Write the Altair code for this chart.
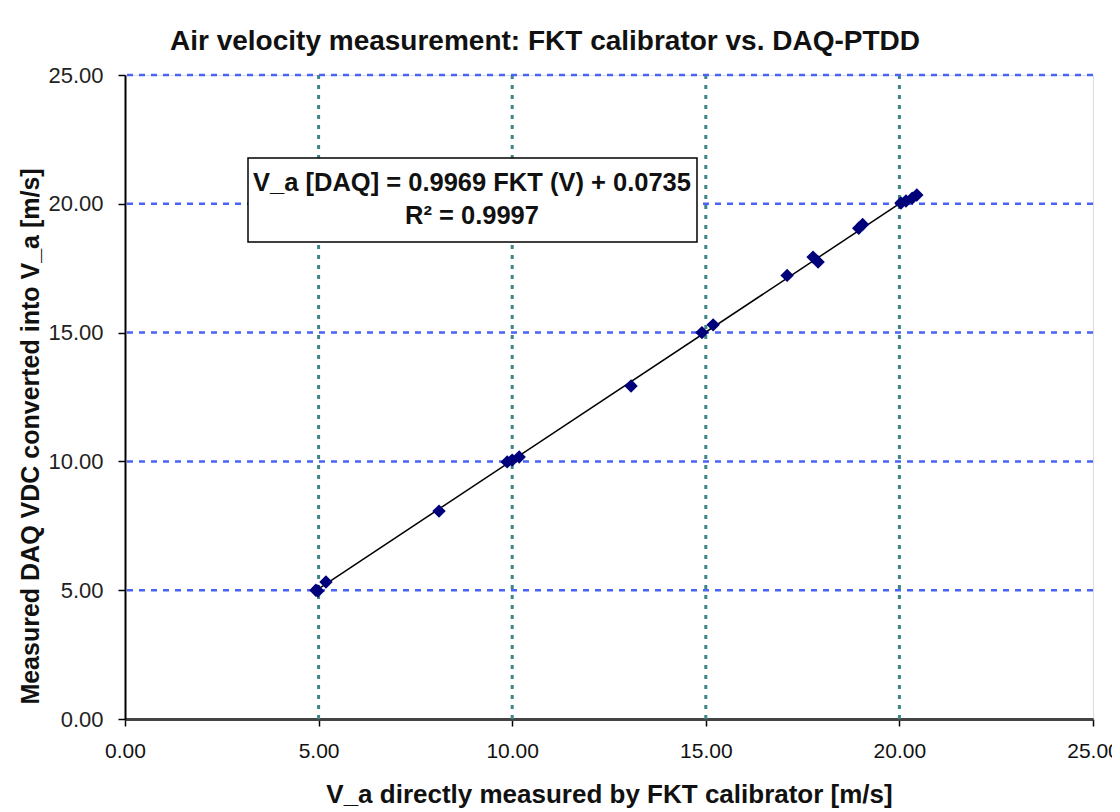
import altair as alt
import pandas as pd

# ---- data ----
fkt_x = [4.93, 4.98, 5.19, 8.11, 9.87, 10.00, 10.18, 13.07, 14.90, 15.19,
         17.10, 17.77, 17.90, 18.95, 19.05, 20.04, 20.17, 20.33, 20.45]
daq_y = [5.00, 4.97, 5.32, 8.07, 9.98, 10.05, 10.17, 12.93, 15.00, 15.30,
         17.22, 17.93, 17.74, 19.05, 19.20, 20.03, 20.11, 20.22, 20.34]

x_grid_values = [5, 10, 15, 20]
y_grid_values = [5, 10, 15, 20, 25]
axis_ticks = [0, 5, 10, 15, 20, 25]

title_text = "Air velocity measurement: FKT calibrator vs. DAQ-PTDD"
x_title = "V_a directly measured by FKT calibrator [m/s]"
y_title = "Measured DAQ VDC converted into V_a [m/s]"
eq_lines = ["V_a [DAQ] = 0.9969 FKT (V) + 0.0735", "R² = 0.9997"]

df = pd.DataFrame({"x": fkt_x, "y": daq_y})
xg = pd.DataFrame({"v": x_grid_values})
yg = pd.DataFrame({"v": y_grid_values})
eq = pd.DataFrame({"t": ["\n".join(eq_lines)]})
box = pd.DataFrame({"a": [0]})

W, H = 968, 644
SANS = "Liberation Sans"

xscale = alt.Scale(domain=[0, 25], nice=False, zero=True)
yscale = alt.Scale(domain=[0, 25], nice=False, zero=True)

xaxis = alt.Axis(values=axis_ticks, format=".2f", grid=False, title=x_title,
                 labelFont=SANS, labelFontSize=21, labelColor="#111",
                 labelPadding=14, labelFlush=False, labelOverlap=False,
                 tickSize=7, tickColor="#000", tickWidth=1.5,
                 domainColor="#444", domainWidth=3,
                 titleFont=SANS, titleFontSize=26, titleFontWeight="bold",
                 titleColor="#111", titleBaseline="middle", titleY=75)
yaxis = alt.Axis(values=axis_ticks, format=".2f", grid=False, title=y_title,
                 labelFont=SANS, labelFontSize=22, labelColor="#222",
                 labelPadding=15, labelFlush=False, labelOverlap=False,
                 tickSize=7, tickColor="#000", tickWidth=1.5,
                 domainColor="#000", domainWidth=2,
                 titleFont=SANS, titleFontSize=25, titleFontWeight="bold",
                 titleColor="#111", titleAngle=270, titleBaseline="middle",
                 titleAlign="center", titleX=-95, titleY=361)

vgrid = alt.Chart(xg).mark_rule(color="#3f8585", strokeWidth=3,
                                strokeDash=[4, 6]).encode(
    x=alt.X("v:Q", scale=xscale, axis=xaxis))
hgrid = alt.Chart(yg).mark_rule(color="#4a64f5", strokeWidth=2.5,
                                strokeDash=[6, 6]).encode(
    y=alt.Y("v:Q", scale=yscale, axis=yaxis))

rect = alt.Chart(box).mark_rect(fill="white", stroke="#000",
                                strokeWidth=1.5).encode(
    x=alt.value(123), x2=alt.value(572), y=alt.value(83), y2=alt.value(167))

eq_text = alt.Chart(eq).mark_text(font=SANS, fontSize=25.5, fontWeight="bold",
                                  color="#111", align="center",
                                  baseline="middle", lineBreak="\n",
                                  lineHeight=33).encode(
    x=alt.value(347), y=alt.value(108), text="t:N")

base = alt.Chart(df)
fit = base.transform_regression("x", "y", method="linear").mark_line(
    color="#000", strokeWidth=1.5).encode(
    x=alt.X("x:Q", scale=xscale), y=alt.Y("y:Q", scale=yscale))
pts = base.mark_point(shape="diamond", filled=True, color="#00007a",
                      size=180, opacity=1).encode(
    x=alt.X("x:Q", scale=xscale), y=alt.Y("y:Q", scale=yscale))

chart = alt.layer(vgrid, hgrid, rect, fit, pts, eq_text).properties(
    width=W, height=H,
    title=alt.TitleParams(title_text, font=SANS, fontSize=28,
                          fontWeight="bold", color="#111", anchor="middle",
                          dx=-64, offset=8),
    autosize=alt.AutoSizeParams(type="none"),
    padding={"left": 117, "top": 67, "right": 19, "bottom": 93},
).configure_view(stroke="#999", strokeWidth=2).configure(background="white")

chart.save("out.html", embed_options={"renderer": "svg", "actions": False})
